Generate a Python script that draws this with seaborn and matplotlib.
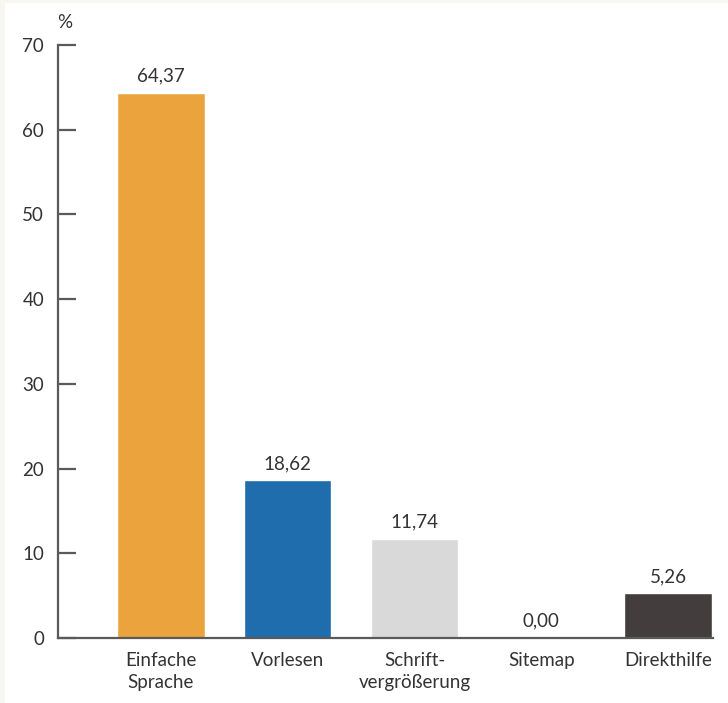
import matplotlib
matplotlib.use("Agg")
import matplotlib.pyplot as plt
import seaborn as sns
import pandas as pd
from matplotlib.patches import Rectangle

categories = ["Einfache\nSprache", "Vorlesen", "Schrift-\nvergrößerung", "Sitemap", "Direkthilfe"]
values = [64.37, 18.62, 11.74, 0.00, 5.26]
colors = ["#EBA33E", "#1F6DAC", "#D9D9D9", "#D9D9D9", "#433E3D"]
yticks = [0, 10, 20, 30, 40, 50, 60, 70]

sns.set_theme(style="white")
plt.rcParams['font.family'] = ['Lato', 'DejaVu Sans']
txt = "#333333"
axc = "#5a5a5a"

W, H = 728, 703
fig = plt.figure(figsize=(W / 100, H / 100), dpi=100)
fig.patch.set_facecolor("#f7f6f0")
fig.patches.append(Rectangle((5 / W, 0), 1, 1 - 3 / H, transform=fig.transFigure,
                             facecolor="white", edgecolor="none", zorder=-10))

left, right, bottom, top = 58, 713, 638, 45
ax = fig.add_axes([left / W, 1 - bottom / H, (right - left) / W, (bottom - top) / H])
ax.patch.set_alpha(0)

df = pd.DataFrame({"cat": categories, "val": values})
sns.barplot(data=df, x="cat", y="val", hue="cat", palette=colors, legend=False,
            width=0.69, saturation=1, ax=ax)

first, last = 161, 668
spacing = (last - first) / 4
ax.set_xlim(-(first - left) / spacing, 4 + (right - last) / spacing)
ax.set_ylim(0, 70)
ax.set_yticks(yticks)
ax.set_xlabel("")
ax.set_ylabel("")

for s in ["top", "right"]:
    ax.spines[s].set_visible(False)
for s in ["left", "bottom"]:
    ax.spines[s].set_color(axc)
    ax.spines[s].set_linewidth(1.6)

ax.tick_params(axis="y", direction="in", length=13, width=1.6, color=axc,
               labelsize=13.5, labelcolor=txt, pad=10, left=True)
ax.tick_params(axis="x", length=0, labelsize=13.5, labelcolor=txt, pad=10)
for lab in ax.get_xticklabels():
    lab.set_linespacing(1.35)

for c in ax.containers:
    ax.bar_label(c, fmt=lambda v: f"{v:.2f}".replace(".", ","), padding=6,
                 fontsize=13.5, color=txt)

ax.text(65 / W, 1 - 22 / H, "%", transform=fig.transFigure, ha="center", va="center",
        fontsize=13.5, color=txt)

fig.savefig("out.png", dpi=100)
